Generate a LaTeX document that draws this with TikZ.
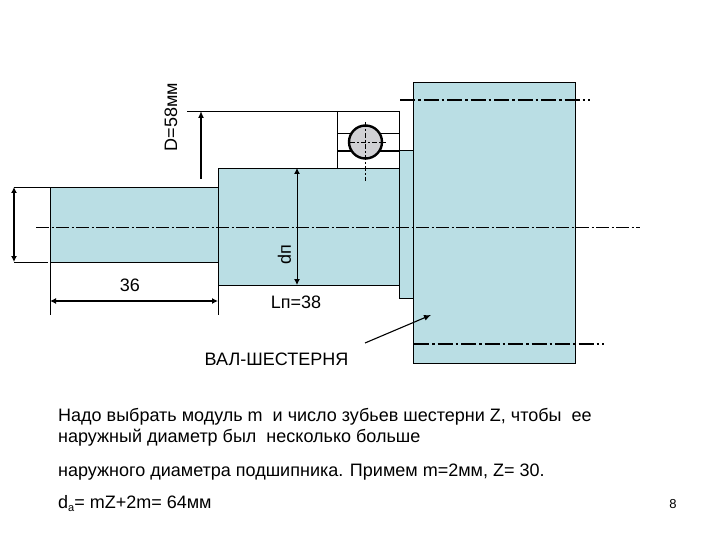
\documentclass[tikz,border=0pt]{standalone}
\usepackage{fontspec}
\setmainfont{Liberation Sans}
\usetikzlibrary{arrows.meta}
\definecolor{shaft}{RGB}{186,222,228}
\definecolor{ball}{RGB}{208,208,212}
\tikzset{
  part/.style={draw=black,line width=0.9pt,fill=shaft},
  thin line/.style={draw=black,line width=0.9pt},
  dim/.style={draw=black,line width=1.7pt,{Latex[length=6pt,width=6pt]}-{Latex[length=6pt,width=6pt]}},
  leader/.style={draw=black,line width=1.7pt,-{Latex[length=7pt,width=6pt]}},
  axis/.style={draw=black,line width=0.7pt,dash pattern=on 13pt off 2.5pt on 2pt off 2.5pt},
  heavy axis/.style={draw=black,line width=1.6pt,dash pattern=on 15pt off 3pt on 2.5pt off 3pt},
  label/.style={inner sep=0pt,font=\fontsize{18}{20}\selectfont,text=black},
  body/.style={inner sep=0pt,anchor=base west,font=\fontsize{18}{20}\selectfont,text=black}
}
\begin{document}
\begin{tikzpicture}[x=1pt,y=-1pt]
\useasboundingbox[fill=white] (0,0) rectangle (720,540);
% shaft
\draw[part] (50,187) rectangle (218,262);
\draw[part] (218,168) rectangle (399,285);
\draw[part] (399,150) rectangle (413,298);
\draw[part] (413,82) rectangle (575.5,363);
% extension lines
\draw[thin line] (14,187) -- (50,187);
\draw[thin line] (14,262) -- (48,262);
\draw[thin line] (50,262) -- (50,315);
\draw[thin line] (218,285) -- (218,315);
\draw[thin line] (187,111) -- (399,111);
\draw[thin line] (337,111) -- (337,168);
\draw[thin line] (399,111) -- (399,168);
% bearing
\draw[line width=1.8pt] (337,133.5) -- (399,133.5);
\draw[line width=1.8pt] (337,151) -- (399,151);
\draw[line width=2.4pt,fill=ball] (365.5,142) circle (16.5);
\draw[draw=black,line width=0.7pt,dash pattern=on 5pt off 2pt on 2pt off 2pt] (350,142) -- (386,142);
\draw[draw=black,line width=0.7pt,dash pattern=on 5pt off 2pt on 2pt off 2pt] (365.5,122) -- (365.5,181);
% centre lines
\draw[axis] (36,227) -- (640,227);
\draw[heavy axis] (400,100) -- (590,100);
\draw[heavy axis] (414,344) -- (604,344);
% dimensions
\coordinate (lt) at (14,187); \coordinate (lb) at (14,262);
\draw[dim] (lt) -- (lb);
\coordinate (bl) at (50,301); \coordinate (br) at (218,301);
\draw[dim] (bl) -- (br);
\coordinate (dt) at (297,168); \coordinate (db) at (297,285);
\draw[draw=black,line width=1pt,{Latex[length=6pt,width=6pt]}-{Latex[length=6pt,width=6pt]}] (dt) -- (db);
\coordinate (Da) at (201,179); \coordinate (Db) at (201,111);
\draw[leader] (Da) -- (Db);
\coordinate (va) at (365,343); \coordinate (vb) at (431,315);
\draw[draw=black,line width=1.1pt,-{Latex[length=7pt,width=6pt]}] (va) -- (vb);
% labels
\node[label,rotate=90] (Dlab) at (171,117) {D=58мм};
\node[label,rotate=90] (dplab) at (284.5,255) {dп};
\node[label] (l36) at (130,285.5) {36};
\node[label] (lp) at (296,302) {Lп=38};
\node[label] (val) at (276.5,359) {ВАЛ-ШЕСТЕРНЯ};
% text
\node[body] (t1) at (58,421) {Надо выбрать модуль m\ \ и число зубьев шестерни Z, чтобы\ \ ее};
\node[body] (t2) at (58,442.5) {наружный диаметр был\ \ несколько больше};
\node[body] (t3) at (58,476) {наружного диаметра подшипника. Примем m=2мм, Z= 30.};
\node[body] (t4) at (58,508) {d\raisebox{-3pt}{\fontsize{11}{11}\selectfont a}= mZ+2m= 64мм};
\node[inner sep=0pt,font=\fontsize{13}{14}\selectfont] (pg) at (673,504) {8};
\end{tikzpicture}
\end{document}
